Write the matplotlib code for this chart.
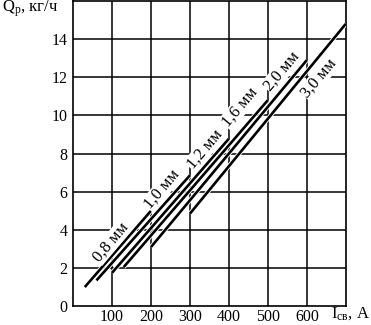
import matplotlib
matplotlib.use("Agg")
import matplotlib.pyplot as plt
import matplotlib.patheffects as pe

plt.rcParams['font.family'] = ['Liberation Serif', 'DejaVu Serif']
plt.rcParams['mathtext.fontset'] = 'custom'
plt.rcParams['mathtext.rm'] = 'Liberation Serif'
plt.rcParams['mathtext.it'] = 'Liberation Serif'

# wire diameters, current range (A) and deposition rate (kg/h)
diameters = ["0,8 мм", "1,0 мм", "1,2 мм", "1,6 мм", "2,0 мм", "3,0 мм"]
current_start = [30, 60, 100, 130, 200, 300]
current_end = [200, 300, 400, 500, 600, 700]
rate_start = [1.0, 1.35, 1.75, 2.05, 3.1, 4.85]
rate_end = [5.0, 6.86, 8.78, 10.8, 12.9, 14.8]

# label anchor points (data coords)
label_x = [97, 228, 338, 428, 536, 631]
label_y = [3.36, 6.13, 8.23, 10.43, 12.32, 11.96]

x_ticks = [100, 200, 300, 400, 500, 600]
y_ticks = [0, 2, 4, 6, 8, 10, 12, 14]

fig = plt.figure(figsize=(3.71, 3.25), dpi=100)
ax = fig.add_axes([0.197, 0.058, 0.735, 0.939])
ax.set_xlim(0, 700)
ax.set_ylim(0, 16)

for gx in range(100, 700, 100):
    ax.axvline(gx, color='black', lw=1.1, zorder=1)
for gy in range(2, 16, 2):
    ax.axhline(gy, color='black', lw=1.1, zorder=1)

halo = [pe.Stroke(linewidth=3.2, foreground='white'), pe.Normal()]
for i in range(len(diameters)):
    ax.plot([current_start[i], current_end[i]], [rate_start[i], rate_end[i]],
            color='black', lw=1.9, solid_capstyle='butt', zorder=3,
            path_effects=halo)
    ax.text(label_x[i], label_y[i], diameters[i], rotation=50, fontsize=12,
            ha='center', va='center', rotation_mode='anchor', zorder=4,
            bbox=dict(facecolor='white', edgecolor='none', pad=0.5))

ax.set_xticks(x_ticks)
ax.set_yticks(y_ticks)
ax.tick_params(length=0, labelsize=11.5)
ax.tick_params(axis='x', pad=2)
ax.tick_params(axis='y', pad=4)
for s in ax.spines.values():
    s.set_linewidth(1.2)

fig.text(0.005, 0.972, "Q$_\\mathrm{р}$, кг/ч", fontsize=12, ha='left', va='center')
fig.text(0.997, 0.035, "I$_\\mathrm{св}$, А", fontsize=12, ha='right', va='center')

fig.savefig("out.png", dpi=100)
